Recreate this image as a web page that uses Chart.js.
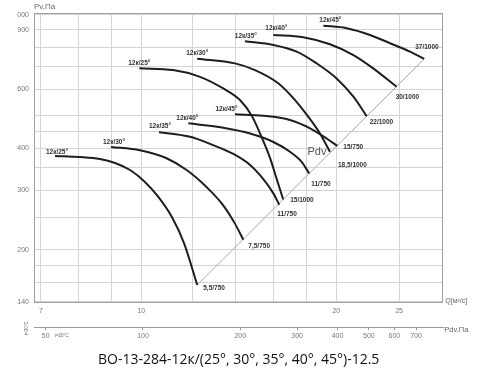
<!DOCTYPE html>
<html><head><meta charset="utf-8">
<script src="https://cdn.jsdelivr.net/npm/chart.js@4.4.1/dist/chart.umd.min.js"></script>
<style>html,body{margin:0;padding:0;background:#fff}#wrap{width:500px;height:377px}</style>
</head><body><div id="wrap"><canvas id="c" width="500" height="377"></canvas></div>
<script>
// ---- axes ----
const qTicks = [7, 8, 9, 10, 12, 14, 16, 18, 20, 25];
const qTickLabels = [7, 10, 20, 25];
const pTicks = [140, 160, 180, 200, 250, 300, 350, 400, 450, 500, 600, 700, 800, 900, 1000];
const pTickLabels = {140: '140', 200: '200', 300: '300', 400: '400', 600: '600', 900: '900', 1000: '000'};
const pdvTicks = [50, 100, 200, 300, 400, 500, 600, 700];

// ---- curve names / motors ----
const bladeNames = ['12к/25°', '12к/30°', '12к/35°', '12к/40°', '12к/45°', '12к/25°', '12к/30°', '12к/35°', '12к/40°', '12к/45°'];
const motorNames = ['5,5/750', '7,5/750', '11/750', '11/750', '15/750', '15/1000', '18,5/1000', '22/1000', '30/1000', '37/1000'];

// ---- 750 rpm curves: Q, Pv (Pa) ----
const q25L = [7.36, 8.04, 8.63, 9.11, 9.61, 10.13, 10.61, 11.15, 11.64, 12.2];
const p25L = [380, 377, 372, 362, 345, 318, 288, 250, 209, 157];
const q30L = [8.98, 9.95, 10.94, 11.75, 12.61, 13.38, 13.95, 14.37];
const p30L = [404, 395, 374, 345, 307, 271, 239, 214];
const q35L = [10.65, 11.89, 12.91, 13.87, 14.72, 15.43, 15.99, 16.33];
const p35L = [447, 433, 409, 385, 357, 324, 294, 272];
const q40L = [11.82, 13.38, 14.72, 15.99, 16.96, 17.68, 18.16];
const p40L = [475, 461, 443, 418, 391, 365, 337];
const q45L = [13.95, 15.43, 16.96, 18.22, 19.32, 20.07];
const p45L = [505, 500, 486, 459, 428, 407];
// ---- 1000 rpm curves ----
const q25H = [9.93, 11.2, 12.32, 13.38, 14.2, 14.82, 15.36, 15.8, 16.2, 16.56];
const p25H = [692, 684, 653, 603, 557, 499, 429, 375, 322, 282];
const q30H = [12.2, 13.95, 14.98, 16.27, 17.27, 18.1, 18.87, 19.55];
const p30H = [739, 716, 684, 625, 557, 497, 443, 391];
const q35H = [14.45, 15.99, 17.37, 18.65, 20.02, 21.25, 22.28];
const p35H = [833, 812, 776, 716, 646, 570, 499];
const q40H = [15.99, 17.78, 19.55, 21.25, 22.8, 24.78];
const p40H = [870, 856, 816, 758, 692, 610];
const q45H = [19.1, 20.75, 22.54, 24.2, 25.98, 27.33];
const p45H = [927, 911, 870, 822, 776, 738];
// ---- Pdv line ----
const qPdv = [12.2, 27.33];
const pPdv = [157, 738];

const seriesQ = [q25L, q30L, q35L, q40L, q45L, q25H, q30H, q35H, q40H, q45H];
const seriesP = [p25L, p30L, p35L, p40L, p45L, p25H, p30H, p35H, p40H, p45H];

// label offsets (pixels, style only)
const nameOffset = [[2,-4],[3,-5],[1,-5.5],[-1,-4.7],[-8.5,-5],[0,-5],[0,-5.4],[1,-5.3],[3,-7],[7,-5.7]];
const motorOffset = [[6,3],[5,6],[-2,9],[2,11],[6,1],[7,1],[8,13],[3,6],[-1,10],[-9,-12]];

const toPts = (qs, ps) => qs.map((q, i) => ({x: q, y: ps[i]}));

const datasets = seriesQ.map((qs, i) => ({
  data: toPts(qs, seriesP[i]),
  showLine: true, borderColor: '#1e1e1e', borderWidth: 2, pointRadius: 0,
  cubicInterpolationMode: 'monotone', xAxisID: 'x', yAxisID: 'y'
}));
datasets.push({data: toPts(qPdv, pPdv), showLine: true, borderColor: '#a8a8a8', borderWidth: 1,
  pointRadius: 0, xAxisID: 'x', yAxisID: 'y'});

const FONT = '"Liberation Sans", Arial, sans-serif';

const annot = {
  id: 'annot',
  afterDatasetsDraw(chart) {
    const {ctx, chartArea: a, scales} = chart;
    const xs = scales.x, ys = scales.y, x2 = scales.x2;
    ctx.save();
    ctx.strokeStyle = '#a0a0a0'; ctx.lineWidth = 1;
    ctx.strokeRect(Math.round(a.left) + 0.5, Math.round(a.top) + 0.5, Math.round(a.width) - 1, Math.round(a.height) - 1);
    ctx.fillStyle = '#333';
    ctx.font = 'bold 6.5px ' + FONT;
    ctx.textBaseline = 'middle';
    seriesQ.forEach((qs, i) => {
      const ps = seriesP[i];
      const sx = xs.getPixelForValue(qs[0]), sy = ys.getPixelForValue(ps[0]);
      ctx.textAlign = 'center';
      ctx.fillText(bladeNames[i], sx + nameOffset[i][0], sy + nameOffset[i][1]);
      const n = qs.length - 1;
      const ex = xs.getPixelForValue(qs[n]), ey = ys.getPixelForValue(ps[n]);
      ctx.textAlign = 'left';
      ctx.fillText(motorNames[i], ex + motorOffset[i][0], ey + motorOffset[i][1]);
    });
    // Pdv text
    ctx.fillStyle = '#555'; ctx.font = '11px ' + FONT; ctx.textAlign = 'center';
    ctx.fillText('Pdv', xs.getPixelForValue(q30H[q30H.length-1]) - 13, ys.getPixelForValue(p30H[p30H.length-1]));
    // axis titles
    ctx.fillStyle = '#666'; ctx.font = '8px ' + FONT; ctx.textAlign = 'left';
    ctx.fillText('Pv,Па', a.left, a.top - 6);
    ctx.font = '7px ' + FONT;
    ctx.fillText('Q[м³/с]', a.right + 2, a.bottom - 2);
    ctx.font = '7.5px ' + FONT;
    ctx.fillText('Pdv,Па', a.right + 1, x2.top + 3);
    ctx.font = '4.5px ' + FONT;
    ctx.fillText('t=20°C', x2.getPixelForValue(50) + 9, x2.top + 9);
    ctx.translate(27, x2.top + 1);
    ctx.rotate(-Math.PI / 2);
    ctx.textAlign = 'center';
    ctx.fillText('t=20°C', 0, 0);
    ctx.restore();
  }
};

new Chart(document.getElementById('c'), {
  type: 'scatter',
  data: {datasets},
  plugins: [annot],
  options: {
    responsive: false, animation: false, devicePixelRatio: 1,
    layout: {padding: {top: 13, right: 56.7, left: 0, bottom: 0}},
    plugins: {
      legend: {display: false}, tooltip: {enabled: false},
      title: {display: true, position: 'bottom', fullSize: false,
        text: 'ВО-13-284-12к/(25°, 30°, 35°, 40°, 45°)-12.5',
        font: {family: '"Open Sans", sans-serif', size: 14, weight: 'normal'}, color: '#111',
        padding: {top: 5, bottom: 9}}
    },
    scales: {
      x: {type: 'logarithmic', position: 'bottom', weight: 0, min: 6.83, max: 29.25,
        afterBuildTicks: s => { s.ticks = qTicks.map(v => ({value: v})); },
        afterFit: s => { s.height = 24; },
        grid: {color: '#d4d4d4', drawTicks: false},
        border: {display: false},
        ticks: {autoSkip: false, maxRotation: 0, padding: 4, color: '#777', font: {family: FONT, size: 7},
          callback: v => qTickLabels.includes(v) ? String(v) : ''}
      },
      x2: {type: 'logarithmic', position: 'bottom', weight: 1, min: 46, max: 850,
        afterBuildTicks: s => { s.ticks = pdvTicks.map(v => ({value: v})); },
        afterFit: s => { s.height = 19; },
        grid: {drawOnChartArea: false, drawTicks: true, tickLength: 3, tickColor: '#999'},
        border: {display: true, color: '#999'},
        ticks: {autoSkip: false, maxRotation: 0, padding: 2, color: '#777', font: {family: FONT, size: 7},
          callback: v => String(v)}
      },
      y: {type: 'logarithmic', position: 'left', min: 138.6, max: 1011,
        afterBuildTicks: s => { s.ticks = pTicks.map(v => ({value: v})); },
        afterFit: s => { s.width = 34; },
        grid: {color: '#d4d4d4', drawTicks: false},
        border: {display: false},
        ticks: {autoSkip: false, padding: 5, color: '#777', font: {family: FONT, size: 7},
          callback: v => pTickLabels[v] || ''}
      }
    }
  }
});
</script></body></html>
